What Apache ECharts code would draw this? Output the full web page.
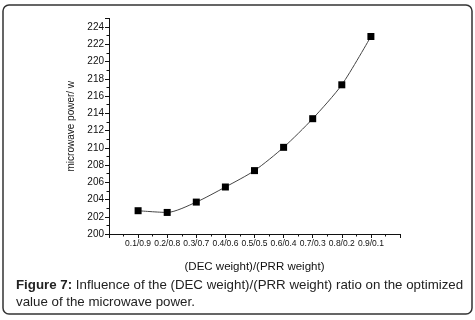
<!DOCTYPE html>
<html><head><meta charset="utf-8">
<script src="https://cdn.jsdelivr.net/npm/echarts@6/dist/echarts.min.js"></script>
<style>html,body{margin:0;padding:0;background:#fff}#c{width:475px;height:320px}</style>
</head><body><div id="c"></div>
<script>
const decWeights = [0.1, 0.2, 0.3, 0.4, 0.5, 0.6, 0.7, 0.8, 0.9];
const microwavePower = [202.7, 202.5, 203.7, 205.45, 207.35, 210.05, 213.37, 217.3, 222.9];
const xAxisName = '(DEC weight)/(PRR weight)';
const yAxisName = 'microwave power/ w';
const captionBold = 'Figure 7:';
const captionLine1 = ' Influence of the (DEC weight)/(PRR weight) ratio on the optimized';
const captionLine2 = 'value of the microwave power.';

const chart = echarts.init(document.getElementById('c'), null, {renderer: 'canvas'});
const font = 'Liberation Sans, Arial, sans-serif';
chart.setOption({
  animation: false,
  grid: {left: 109, top: 18.4, width: 291, height: 215.6, containLabel: false},
  xAxis: {
    type: 'value', min: 0, max: 1, interval: 0.1,
    name: xAxisName, nameLocation: 'middle', nameGap: 27,
    nameTextStyle: {fontFamily: font, fontSize: 11.5, color: '#111'},
    axisLine: {lineStyle: {color: '#111', width: 1}},
    axisTick: {show: true, length: 4, inside: false, lineStyle: {color: '#111'}},
    minorTick: {show: true, splitNumber: 2, length: 2.5, lineStyle: {color: '#111'}},
    splitLine: {show: false},
    axisLabel: {
      fontFamily: font, fontSize: 8.5, color: '#111', margin: 5,
      formatter: v => (v > 0.05 && v < 0.95) ? v.toFixed(1) + '/' + (1 - v).toFixed(1) : ''
    }
  },
  yAxis: {
    type: 'value', min: 200, max: 225, interval: 2,
    name: yAxisName, nameLocation: 'middle', nameGap: 24, nameRotate: 90,
    nameTextStyle: {fontFamily: font, fontSize: 10, color: '#111'},
    axisLine: {show: true, lineStyle: {color: '#111', width: 1}},
    axisTick: {show: true, length: 4, lineStyle: {color: '#111'}},
    minorTick: {show: true, splitNumber: 2, length: 2.5, lineStyle: {color: '#111'}},
    splitLine: {show: false},
    axisLabel: {
      fontFamily: font, fontSize: 10, color: '#111', margin: 5,
      formatter: v => (v % 2 === 0) ? String(v) : ''
    }
  },
  series: [{
    type: 'line',
    data: decWeights.map((x, i) => [x, microwavePower[i]]),
    smooth: 0.25,
    symbol: 'rect', symbolSize: 7,
    itemStyle: {color: '#000'},
    lineStyle: {color: '#444', width: 1}
  }],
  graphic: [
    {type: 'rect', shape: {x: 3, y: 5, width: 469, height: 309, r: 6},
     style: {fill: 'none', stroke: '#333', lineWidth: 1.5}, z: 100},
    {type: 'text', left: 16, top: 279, style: {
      rich: {b: {fontWeight: 'bold', fontFamily: font, fontSize: 13.3, fill: '#222'},
             n: {fontFamily: font, fontSize: 13.3, fill: '#222'}},
      text: '{b|' + captionBold + '}{n|' + captionLine1 + '}'
    }},
    {type: 'text', left: 16, top: 296, style: {
      fontFamily: font, fontSize: 13.3, fill: '#222', text: captionLine2
    }}
  ]
});
</script></body></html>
